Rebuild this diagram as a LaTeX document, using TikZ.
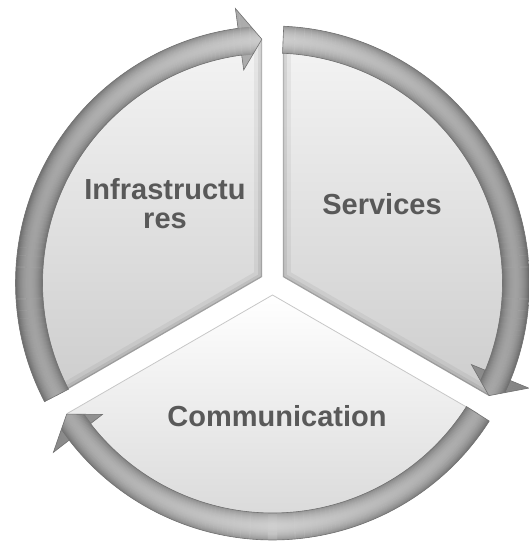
\documentclass[tikz,border=0pt]{standalone}
\usepackage{fontspec}
\setmainfont{Liberation Sans}
\definecolor{labelgray}{HTML}{595959}
\definecolor{segtop}{HTML}{F4F4F4}
\definecolor{segbot}{HTML}{CDCDCD}
\definecolor{commtop}{HTML}{FFFFFF}
\definecolor{commbot}{HTML}{D2D2D2}
% arrow outline: tail angle, head-back angle, tip angle
\newcommand\cycarrow[3]{(#1:257) arc[start angle=#1, end angle=#2, radius=257] -- (#2:277) -- (#3:244) -- (#2:215) -- (#2:230) arc[start angle=#2, end angle=#1, radius=230] -- cycle}
% segment outline: apex direction, first edge angle, second edge angle
\newcommand\cycseg[3]{(#1:12) -- ++(#2:237) arc[start angle=#2, end angle=#3, radius=237] -- cycle}
% tube-like fill: concentric rings of grey
\newcommand\tubefill{%
  \foreach \rr in {212,213,...,280} {%
    \pgfmathsetmacro\tt{(\rr-243.5)/13.5}%
    \pgfmathsetmacro\LL{abs(\tt)<=1 ? 0.76-0.26*\tt*\tt : 0.62}%
    \definecolor{tubec}{gray}{\LL}%
    \draw[tubec, line width=1.4] (0,0) circle (\rr);
  }%
  \shade[left color=black, right color=black, middle color=white, opacity=0.2] (-280,-280) rectangle (280,280);
}
\begin{document}
\begin{tikzpicture}[x=1pt,y=1pt,
  lbl/.style={font=\fontsize{29}{29}\selectfont\bfseries, text=labelgray, align=center, inner sep=0pt},
  bevel/.style={draw=black, opacity=#1}]
\useasboundingbox (0,0) rectangle (529,542);
\begin{scope}[shift={(272.5,259)}]
  % segments
  \shade[top color=segtop, bottom color=segbot] \cycseg{150}{90}{210};
  \shade[top color=segtop, bottom color=segbot] \cycseg{30}{-30}{90};
  \shade[top color=commtop, bottom color=commbot] \cycseg{270}{210}{330};
  \begin{scope}
    \clip \cycseg{150}{90}{210};
    \path[bevel=0.05, line width=16] \cycseg{150}{90}{210};
    \path[bevel=0.07, line width=8] \cycseg{150}{90}{210};
    \path[bevel=0.15, line width=2.5] \cycseg{150}{90}{210};
  \end{scope}
  \begin{scope}
    \clip \cycseg{30}{-30}{90};
    \path[bevel=0.05, line width=16] \cycseg{30}{-30}{90};
    \path[bevel=0.07, line width=8] \cycseg{30}{-30}{90};
    \path[bevel=0.15, line width=2.5] \cycseg{30}{-30}{90};
  \end{scope}
  \draw[black!22, line width=0.8] \cycseg{270}{210}{330};
  % arrows
  \begin{scope}
    \clip \cycarrow{207.5}{97.7}{92.5};
    \tubefill
  \end{scope}
  \begin{scope}
    \clip \cycarrow{87.5}{-22.3}{-27.5};
    \tubefill
  \end{scope}
  \begin{scope}
    \clip \cycarrow{-32.5}{-142.3}{-147.5};
    \tubefill
  \end{scope}
  \draw[black!55, line width=0.6] \cycarrow{207.5}{97.7}{92.5};
  \draw[black!55, line width=0.6] \cycarrow{87.5}{-22.3}{-27.5};
  \draw[black!55, line width=0.6] \cycarrow{-32.5}{-142.3}{-147.5};
\end{scope}
\node[lbl] (infra) at (165,338) {Infrastructu\\res};
\node[lbl] (serv) at (382,338) {Services};
\node[lbl] (comm) at (277,125.5) {Communication};
\end{tikzpicture}
\end{document}
